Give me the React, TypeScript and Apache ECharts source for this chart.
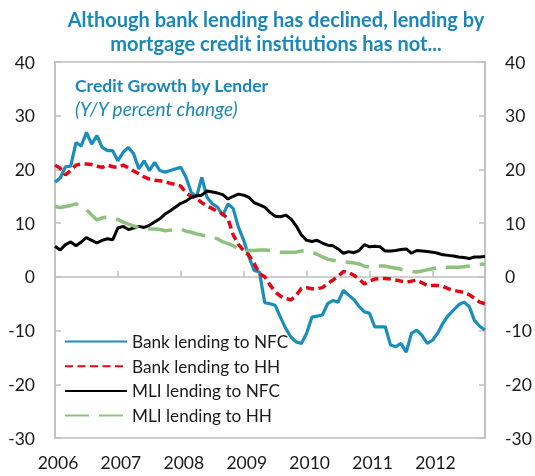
import React, { useEffect, useRef } from "react";
import * as echarts from "echarts";

const startYear = 2006;
const seriesNames = [
  "Bank lending to NFC",
  "Bank lending to HH",
  "MLI lending to NFC",
  "MLI lending to HH",
];

// Monthly y/y percent change, Jan 2006 .. Nov 2012
const bankNFC = [
  17.6, 18.4, 20.5, 20.6, 25.0, 24.4, 26.9, 24.7, 26.3, 24.1,
  23.5, 23.5, 21.6, 23.2, 24.1, 22.9, 20.1, 21.6, 19.8, 21.3,
  19.8, 19.5, 19.8, 20.1, 20.4, 18.5, 15.7, 14.9, 18.5, 14.8,
  13.6, 13.0, 11.4, 13.6, 12.7, 9.2, 6.8, 3.7, 1.2, 0.9,
  -4.8, -5.0, -5.3, -7.5, -9.6, -11.2, -12.1, -12.4, -10.5, -7.5,
  -7.3, -7.1, -5.0, -4.4, -4.7, -2.5, -3.4, -4.2, -5.5, -6.5,
  -6.8, -9.3, -9.3, -9.3, -12.7, -13.0, -12.4, -14.0, -10.5, -9.9,
  -10.9, -12.4, -11.8, -10.5, -8.6, -7.2, -6.2, -5.2, -4.7, -5.5,
  -8.1, -9.2, -9.9,
];
const bankHH = [
  20.8, 20.2, 19.0, 19.8, 20.8, 21.0, 21.0, 20.9, 20.6, 20.4,
  20.8, 20.5, 20.4, 20.8, 20.3, 19.7, 19.2, 18.6, 18.2, 18.0,
  17.9, 17.7, 17.4, 17.2, 16.9, 15.6, 15.0, 14.6, 13.8, 13.2,
  12.7, 12.2, 11.7, 10.8, 7.8, 6.0, 4.9, 4.0, 2.5, 0.6,
  0.0, -1.5, -2.8, -3.6, -4.0, -4.3, -3.5, -2.1, -2.0, -2.2,
  -2.2, -2.0, -1.3, -0.6, 0.1, 1.0, 0.8, 0.3, -0.4, -1.3,
  -0.8, -0.4, -0.3, -0.3, -0.4, -0.6, -0.8, -1.0, -0.8, -0.6,
  -1.1, -1.6, -1.6, -1.6, -1.8, -2.2, -2.5, -2.7, -2.9, -3.3,
  -4.0, -4.7, -5.0,
];
const mliNFC = [
  5.7, 5.0, 6.0, 6.5, 5.8, 6.5, 7.3, 6.8, 6.3, 6.8,
  7.1, 6.9, 9.1, 9.4, 8.8, 9.1, 9.4, 9.2, 9.6, 10.2,
  10.8, 11.7, 12.3, 13.0, 13.7, 14.1, 14.8, 15.1, 15.2, 16.0,
  15.8, 15.6, 15.3, 14.5, 15.0, 15.4, 15.2, 14.8, 13.8, 13.4,
  13.0, 12.0, 11.3, 11.2, 11.5, 10.8, 9.5, 7.8, 6.8, 6.6,
  6.8, 6.3, 5.9, 5.8, 5.2, 4.4, 4.7, 4.5, 4.9, 6.0,
  5.6, 5.7, 5.6, 4.8, 4.8, 4.9, 5.1, 5.2, 4.4, 4.9,
  4.8, 4.7, 4.6, 4.4, 4.1, 4.0, 3.9, 3.7, 3.6, 3.4,
  3.7, 3.7, 3.8,
];
const mliHH = [
  13.1, 12.9, 13.1, 13.3, 13.6, 13.0, 12.5, 11.5, 10.6, 11.0,
  11.1, 11.0, 10.7, 10.2, 9.8, 9.5, 9.1, 9.0, 8.9, 8.9,
  8.8, 8.6, 8.7, 8.8, 8.9, 8.5, 8.3, 8.0, 7.8, 7.6,
  7.3, 7.1, 6.5, 6.2, 5.8, 5.2, 5.0, 4.9, 4.9, 5.0,
  5.0, 4.9, 4.7, 4.6, 4.6, 4.6, 4.6, 4.8, 4.9, 4.6,
  4.2, 3.7, 3.3, 3.1, 2.9, 2.8, 2.7, 2.6, 2.4, 2.0,
  1.8, 1.9, 2.0, 2.0, 1.8, 1.6, 1.4, 1.2, 1.0, 0.9,
  1.1, 1.3, 1.5, 1.7, 1.7, 1.8, 1.8, 1.8, 1.9, 2.0,
  2.2, 2.3, 2.4,
];

const titleLines = [
  "Although bank lending has declined, lending by",
  "mortgage credit institutions has not...",
];
const innerTitle = "Credit Growth by Lender";
const innerSubtitle = "(Y/Y percent change)";

const FONT = 'Lato, "Open Sans", "DejaVu Sans", sans-serif';
const TITLE_BLUE = "#1A87BA";
const AXIS_GRAY = "#BFBFBF";
const TEXT = "#1A1A1A";

const toPoints = (vals: number[]) =>
  vals.map((v, i) => [startYear + i / 12, v]);

export default function App() {
  const ref = useRef<HTMLDivElement>(null);
  useEffect(() => {
    if (!ref.current) return;
    const chart = echarts.init(ref.current, undefined, { renderer: "svg" });
    const xMin = 2006;
    const xMax = 2012.835;
    const yAxisBase = (pos: "left" | "right") => ({
      type: "value",
      position: pos,
      min: -30,
      max: 40,
      interval: 10,
      axisLine: { show: true, onZero: false, lineStyle: { color: AXIS_GRAY, width: 1.5 } },
      axisTick: { show: true, inside: true, length: 6, lineStyle: { color: AXIS_GRAY, width: 1.5 } },
      axisLabel: {
        show: true,
        fontSize: 17.5,
        color: TEXT,
        fontFamily: FONT,
        margin: 20,
        padding: [5, 0, 0, 0],
      },
      splitLine: { show: false },
    });
    const styles = [
      { color: "#1A8DBF", width: 3.2, type: "solid" as any },
      { color: "#E30613", width: 3.5, type: [8, 4.5] as any },
      { color: "#000000", width: 3, type: "solid" as any },
      { color: "#8DC27E", width: 3.5, type: [24, 10] as any },
    ];
    const dataSets = [bankNFC, bankHH, mliNFC, mliHH];
    const option: any = {
      animation: false,
      grid: {
        left: 55,
        right: 50,
        top: 62,
        bottom: 38,
        show: true,
        borderColor: AXIS_GRAY,
        borderWidth: 1.5,
        backgroundColor: "transparent",
      },
      xAxis: [
        {
          type: "value",
          min: xMin,
          max: xMax,
          interval: 1,
          axisLine: { show: true, onZero: true, lineStyle: { color: AXIS_GRAY, width: 1.5 } },
          axisTick: { show: true, inside: true, length: 6, lineStyle: { color: AXIS_GRAY, width: 1.5 } },
          axisLabel: { show: false },
          splitLine: { show: false },
        },
        {
          type: "value",
          position: "bottom",
          min: xMin,
          max: xMax,
          interval: 1,
          axisLine: { show: false, onZero: false },
          axisTick: { show: false },
          axisLabel: {
            show: true,
            fontSize: 17.5,
            color: TEXT,
            fontFamily: FONT,
            margin: 15,
            padding: [0, 0, 0, 6],
            formatter: (v: number) => (Number.isInteger(v) ? String(v) : ""),
          },
          splitLine: { show: false },
        },
      ],
      yAxis: [yAxisBase("left"), yAxisBase("right")],
      legend: {
        orient: "vertical",
        left: 64,
        top: 333,
        padding: 0,
        itemWidth: 62,
        itemHeight: 17,
        itemGap: 7.7,
        data: seriesNames,
        itemStyle: { opacity: 0 },
        textStyle: { fontSize: 17.2, color: TEXT, fontFamily: FONT, lineHeight: 17 },
      },
      graphic: [
        ...titleLines.map((t, i) => ({
          type: "text",
          x: 276,
          y: 19 + i * 24,
          style: {
            text: t,
            fill: TITLE_BLUE,
            font: `bold 20px ${FONT}`,
            textAlign: "center",
            textVerticalAlign: "middle",
            verticalAlign: "middle",
          },
        })),
        {
          type: "text",
          x: 75,
          y: 85,
          style: {
            text: innerTitle,
            fill: TITLE_BLUE,
            font: `bold 17.6px ${FONT}`,
            textAlign: "left",
            textVerticalAlign: "middle",
            verticalAlign: "middle",
          },
        },
        {
          type: "text",
          x: 75,
          y: 108,
          style: {
            text: innerSubtitle,
            fill: TITLE_BLUE,
            font: `italic 19px ${FONT}`,
            textAlign: "left",
            textVerticalAlign: "middle",
            verticalAlign: "middle",
          },
        },
      ],
      series: dataSets.map((d, i) => ({
        name: seriesNames[i],
        type: "line",
        xAxisIndex: 0,
        yAxisIndex: 0,
        data: toPoints(d),
        symbol: "none",
        showSymbol: false,
        lineStyle: styles[i],
        itemStyle: { color: styles[i].color },
        z: 2 + i,
      })),
    };
    chart.setOption(option);
    return () => chart.dispose();
  }, []);
  return (
    <div
      ref={ref}
      style={{ position: "fixed", left: 0, top: 0, width: 535, height: 476 }}
    />
  );
}
